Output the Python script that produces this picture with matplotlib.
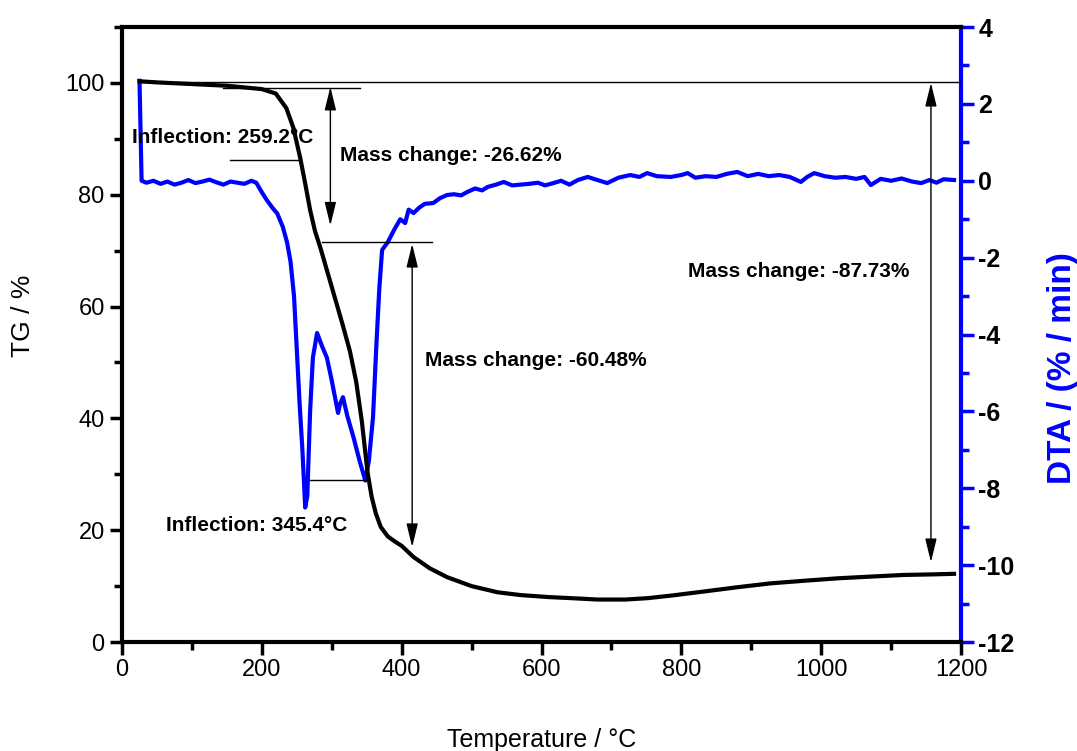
import matplotlib.pyplot as plt
from matplotlib.ticker import MultipleLocator

plt.rcParams['font.family'] = ['Liberation Sans', 'DejaVu Sans']
plt.rcParams['axes.unicode_minus'] = False

# TG curve (temperature in degC, mass in %)
temp_tg = [25, 50, 100, 150, 200, 220, 235, 245, 255, 262, 269, 276, 284, 300,
           315, 326, 335, 343, 351, 357, 363, 370, 380, 390, 400, 417, 440, 465,
           500, 537, 570, 609, 650, 680, 720, 752, 785, 830, 880, 928, 980, 1024,
           1070, 1118, 1160, 1190]
tg = [100.3, 100.1, 99.8, 99.5, 98.9, 98.1, 95.5, 92.0, 86.5, 82.0, 77.3, 73.5,
      70.4, 63.5, 57.0, 52.0, 46.5, 39.5, 30.5, 26.0, 23.0, 20.6, 18.9, 18.0,
      17.2, 15.2, 13.2, 11.6, 10.0, 8.9, 8.4, 8.05, 7.8, 7.6, 7.6, 7.85, 8.3,
      9.0, 9.8, 10.5, 11.0, 11.4, 11.7, 12.0, 12.1, 12.2]

# DTA curve (%/min)
temp_dta = [25, 28, 35, 45, 55, 65, 75, 85, 95, 105, 115, 125, 135, 145, 155,
            165, 175, 185, 192, 200, 207, 215, 222, 230, 236, 241, 246, 250, 254,
            258, 262, 265, 269, 273, 279, 286, 293, 300, 309, 312, 316, 322, 331,
            340, 348, 353, 359, 364, 368, 372, 380, 390, 398, 405, 410, 417, 425,
            433, 445, 455, 465, 475, 485, 494, 505, 515, 523, 535, 546, 558, 570,
            582, 595, 605, 617, 628, 640, 652, 666, 680, 694, 710, 727, 740, 751,
            765, 785, 800, 809, 820, 835, 850, 865, 880, 895, 910, 925, 940, 955,
            971, 980, 990, 1005, 1020, 1035, 1050, 1062, 1071, 1085, 1100, 1115,
            1130, 1143, 1155, 1165, 1175, 1190]
dta = [2.6, 0.0, -0.05, 0.0, -0.08, -0.02, -0.1, -0.05, 0.02, -0.06, -0.02,
       0.03, -0.04, -0.1, -0.02, -0.05, -0.08, 0.0, -0.05, -0.3, -0.5, -0.7,
       -0.85, -1.2, -1.6, -2.1, -3.0, -4.4, -5.8, -7.0, -8.5, -8.2, -6.0, -4.6,
       -3.96, -4.3, -4.6, -5.2, -6.04, -5.8, -5.63, -6.1, -6.67, -7.3, -7.8,
       -7.3, -6.15, -4.2, -2.8, -1.8, -1.6, -1.25, -1.0, -1.1, -0.75, -0.84,
       -0.7, -0.6, -0.58, -0.45, -0.37, -0.35, -0.38, -0.29, -0.2, -0.25, -0.16,
       -0.1, -0.03, -0.12, -0.1, -0.08, -0.05, -0.12, -0.06, 0.0, -0.1, 0.02,
       0.1, 0.02, -0.06, 0.08, 0.15, 0.1, 0.2, 0.12, 0.1, 0.15, 0.2, 0.08, 0.12,
       0.1, 0.18, 0.23, 0.12, 0.18, 0.12, 0.15, 0.1, -0.03, 0.1, 0.2, 0.12,
       0.08, 0.1, 0.05, 0.1, -0.11, 0.05, 0.0, 0.06, -0.02, -0.06, 0.02, -0.05,
       0.04, 0.02]

fig = plt.figure(figsize=(10.77, 7.51), dpi=100)
ax1 = fig.add_axes([0.1133, 0.1451, 0.7790, 0.8189])
ax2 = ax1.twinx()
ax1.set_zorder(ax2.get_zorder() + 1)
ax1.patch.set_visible(False)

ax2.plot(temp_dta, dta, color='#0000ff', lw=3.0, solid_joinstyle='round')
ax1.plot(temp_tg, tg, color='black', lw=3.0, solid_joinstyle='round')

ax1.set_xlim(0, 1200)
ax1.set_ylim(0, 110)
ax2.set_ylim(-12, 4)

# annotation lines
thin = dict(color='black', lw=1.0)
ax1.plot([25, 1200], [100.2, 100.2], **thin)
ax1.plot([145, 341], [99.1, 99.1], **thin)
ax1.plot([155, 252], [86.2, 86.2], **thin)
ax1.plot([286, 444], [71.6, 71.6], **thin)
ax1.plot([269, 351], [29.0, 29.0], **thin)

arrow = dict(arrowstyle='<|-|>,head_length=0.9,head_width=0.22', color='black',
             lw=1.0, mutation_scale=16, shrinkA=0, shrinkB=0)
ax1.annotate('', xy=(298, 99.3), xytext=(298, 74.5), arrowprops=arrow)
ax1.annotate('', xy=(415, 71.2), xytext=(415, 17.0), arrowprops=arrow)
ax1.annotate('', xy=(1157, 100.0), xytext=(1157, 14.3), arrowprops=arrow)

txt = dict(fontsize=15, fontweight='bold', va='center', ha='left')
ax1.text(14, 90.2, 'Inflection: 259.2°C', **txt)
ax1.text(312, 87.1, 'Mass change: -26.62%', **txt)
ax1.text(434, 50.4, 'Mass change: -60.48%', **txt)
ax1.text(810, 66.2, 'Mass change: -87.73%', **txt)
ax1.text(63, 20.9, 'Inflection: 345.4°C', **txt)

# axes styling
for side in ['left', 'top', 'bottom']:
    ax1.spines[side].set_linewidth(3)
ax1.spines['right'].set_visible(False)
for side in ['left', 'top', 'bottom']:
    ax2.spines[side].set_visible(False)
ax2.spines['right'].set_linewidth(3)
ax2.spines['right'].set_color('#0000ff')

ax1.xaxis.set_major_locator(MultipleLocator(200))
ax1.xaxis.set_minor_locator(MultipleLocator(100))
ax1.yaxis.set_major_locator(MultipleLocator(20))
ax1.yaxis.set_minor_locator(MultipleLocator(10))
ax2.yaxis.set_major_locator(MultipleLocator(2))
ax2.yaxis.set_minor_locator(MultipleLocator(1))

ax1.tick_params(axis='both', which='major', direction='out', length=9, width=2.5,
                labelsize=17)
ax1.tick_params(axis='both', which='minor', direction='out', length=6, width=2.5)
ax1.tick_params(axis='x', which='both', top=False, labelsize=17)
ax2.tick_params(axis='y', which='major', direction='out', length=9, width=2.5,
                color='#0000ff', labelsize=18)
ax2.tick_params(axis='y', which='minor', direction='out', length=6, width=2.5,
                color='#0000ff')
for lab in ax2.get_yticklabels():
    lab.set_fontweight('bold')

ax1.set_xlabel('Temperature / °C', fontsize=18)
ax1.xaxis.set_label_coords(0.5, -0.140)
ax1.set_ylabel('TG / %', fontsize=19)
ax1.yaxis.set_label_coords(-0.104, 0.53)
ax2.set_ylabel('DTA / (% / min)', fontsize=24, fontweight='bold', color='#0000ff')
ax2.yaxis.set_label_coords(1.103, 0.445)

fig.savefig('out.png', dpi=100)
